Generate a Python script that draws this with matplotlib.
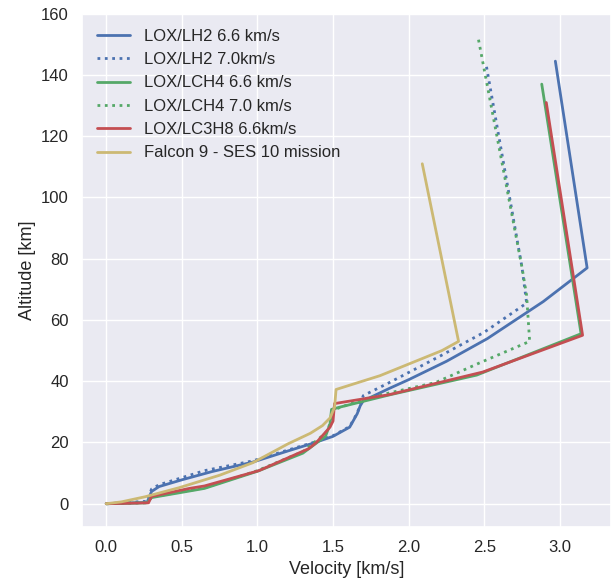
import matplotlib
matplotlib.use('Agg')
import matplotlib.pyplot as plt
import seaborn as sns

sns.set_theme(style='darkgrid')
plt.rcParams['font.family'] = ['Liberation Sans', 'DejaVu Sans']

# LOX/LH2 6.6 km/s
lh2_66_v = [0, 0.10, 0.27, 0.30, 0.35, 0.5, 0.7, 0.97, 1.2, 1.37, 1.5, 1.61, 1.66, 1.68, 1.70,
            1.87, 2.0, 2.25, 2.52, 2.89, 3.18, 2.97]
lh2_66_h = [0, 0.2, 0.4, 4.0, 5.6, 7.8, 10.5, 13.6, 17.2, 19.8, 22.0, 25.0, 29.4, 32.0, 33.6,
            37.6, 40.5, 46.5, 53.9, 66, 77, 144.5]

# LOX/LH2 7.0 km/s
lh2_70_v = [0, 0.27, 0.30, 0.35, 0.65, 0.97, 1.2, 1.37, 1.5, 1.61, 1.66, 1.70, 1.87, 2.2, 2.5,
            2.78, 2.75, 2.51]
lh2_70_h = [0, 0.8, 4.8, 6.2, 10.8, 14.0, 17.5, 20, 22.2, 25.2, 29.6, 35.3, 39.5, 48, 56,
            65.5, 77, 144]

# LOX/LCH4 6.6 km/s
ch4_66_v = [0, 0.27, 0.30, 0.65, 1.0, 1.3, 1.45, 1.48, 1.49, 1.55, 1.87, 2.45, 3.14, 2.88]
ch4_66_h = [0, 0.3, 2.0, 5.0, 10.6, 16.5, 22, 26, 30.8, 31.6, 35.5, 42, 55.5, 137]

# LOX/LCH4 7.0 km/s
ch4_70_v = [0, 0.27, 0.30, 0.65, 1.0, 1.3, 1.45, 1.48, 1.50, 1.55, 1.74, 2.18, 2.47, 2.80,
            2.78, 2.75, 2.46]
ch4_70_h = [0, 0.3, 2.2, 5.2, 10.8, 17, 23, 26, 30.5, 31.5, 34.7, 39.6, 46, 53,
            68, 77, 152]

# LOX/LC3H8 6.6 km/s
c3h8_v = [0, 0.28, 0.30, 0.55, 0.65, 1.01, 1.34, 1.39, 1.48, 1.50, 1.51, 1.87, 2.49, 3.15, 2.91]
c3h8_h = [0, 0.3, 2.4, 5.0, 5.8, 10.8, 18, 20, 25, 27, 32.7, 35.6, 43, 55, 131]

# Falcon 9 - SES 10
f9_v = [0, 0.1, 0.26, 0.48, 0.75, 0.97, 1.2, 1.35, 1.43, 1.48, 1.51, 1.52, 1.81, 2.22, 2.33, 2.09]
f9_h = [0, 0.6, 2.3, 5.2, 9.3, 13.4, 19.5, 23, 25.5, 28, 31.5, 37.3, 41.8, 50, 53, 111]

blue, green, red, gold = '#4C72B0', '#55A868', '#C44E52', '#CCB974'

fig = plt.figure(figsize=(6.13, 5.82), dpi=100)
ax = fig.add_axes([0.134, 0.0945, 0.863, 0.882])
lw = 2
ax.plot(lh2_66_v, lh2_66_h, color=blue, lw=lw, label='LOX/LH2 6.6 km/s')
ax.plot(lh2_70_v, lh2_70_h, color=blue, lw=lw, ls=':', label='LOX/LH2 7.0km/s')
ax.plot(ch4_66_v, ch4_66_h, color=green, lw=lw, label='LOX/LCH4 6.6 km/s')
ax.plot(ch4_70_v, ch4_70_h, color=green, lw=lw, ls=':', label='LOX/LCH4 7.0 km/s')
ax.plot(c3h8_v, c3h8_h, color=red, lw=lw, label='LOX/LC3H8 6.6km/s')
ax.plot(f9_v, f9_h, color=gold, lw=lw, label='Falcon 9 - SES 10 mission')

ax.set_ylim(-7.6, 160)
ax.set_xlabel('Velocity [km/s]', fontsize=13)
ax.set_ylabel('Altitude [km]', fontsize=13)
ax.tick_params(labelsize=12)
ax.legend(loc='upper left', fontsize=12, frameon=False)

fig.savefig('out.png', dpi=100)
plt.close()
